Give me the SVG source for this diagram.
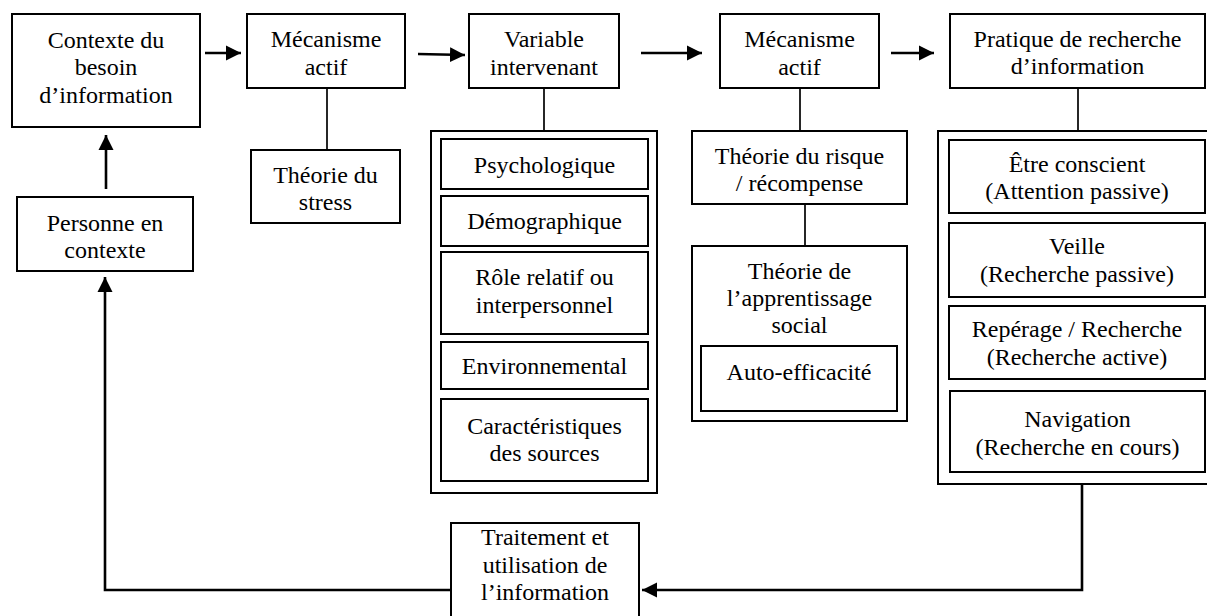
<svg xmlns="http://www.w3.org/2000/svg" width="1207" height="616" viewBox="0 0 1207 616">
  <style>
    .box { fill: #fff; stroke: #000; stroke-width: 2; }
    .frame { fill: none; stroke: #000; stroke-width: 2; }
    .link { fill: none; stroke: #000; stroke-width: 1.7; }
    .arrow { fill: none; stroke: #000; stroke-width: 2.6; marker-end: url(#head); }
    .lbl { font-size: 24px; fill: #000; text-anchor: middle; }
  </style>
  <defs>
    <marker id="head" markerUnits="userSpaceOnUse" markerWidth="16" markerHeight="16" viewBox="0 0 16 16" refX="15" refY="8" orient="auto">
      <path d="M0,0.5 L15,8 L0,15.5 Z" fill="#000"/>
    </marker>
  </defs>
  <rect width="1207" height="616" fill="#fff"/>

  <!-- connectors -->
  <g id="connectors">
    <line class="arrow" x1="205" y1="53" x2="241" y2="53"/>
    <line class="arrow" x1="418" y1="54" x2="465" y2="55"/>
    <line class="arrow" x1="641" y1="53" x2="702" y2="53"/>
    <line class="arrow" x1="891" y1="53" x2="934" y2="53"/>
    <line class="arrow" x1="106" y1="189" x2="106" y2="135"/>
    <line class="link" x1="327" y1="88" x2="327" y2="150"/>
    <line class="link" x1="544" y1="88" x2="544" y2="131"/>
    <line class="link" x1="800" y1="88" x2="800" y2="131"/>
    <line class="link" x1="805" y1="204" x2="805" y2="246"/>
    <line class="link" x1="1078" y1="88" x2="1078" y2="131"/>
    <polyline class="arrow" points="1082,484 1082,590 642,590"/>
    <polyline class="arrow" points="451,590 105,590 105,277"/>
  </g>

  <g font-family="'Liberation Serif', 'Times New Roman', 'DejaVu Serif', serif">
  <g id="contexte-besoin">
    <rect class="box" x="12" y="14" width="188" height="113"/>
    <text class="lbl" x="106" y="47.5">Contexte du</text>
    <text class="lbl" x="106" y="75">besoin</text>
    <text class="lbl" x="106" y="102.5">d’information</text>
  </g>

  <g id="mecanisme-actif-1">
    <rect class="box" x="247" y="14" width="158" height="74"/>
    <text class="lbl" x="326" y="47">Mécanisme</text>
    <text class="lbl" x="326" y="74.5">actif</text>
  </g>

  <g id="theorie-stress">
    <rect class="box" x="251" y="150" width="149" height="73"/>
    <text class="lbl" x="325.5" y="183">Théorie du</text>
    <text class="lbl" x="325.5" y="210">stress</text>
  </g>

  <g id="personne-contexte">
    <rect class="box" x="17" y="197" width="176" height="74"/>
    <text class="lbl" x="105" y="231">Personne en</text>
    <text class="lbl" x="105" y="258">contexte</text>
  </g>

  <g id="variable-intervenant">
    <rect class="box" x="469" y="14" width="150" height="74"/>
    <text class="lbl" x="544" y="47">Variable</text>
    <text class="lbl" x="544" y="74.5">intervenant</text>
  </g>

  <g id="variables">
    <rect class="frame" x="431" y="131" width="226" height="362"/>
    <g id="psychologique">
      <rect class="box" x="441" y="139" width="207" height="50"/>
      <text class="lbl" x="544.5" y="173">Psychologique</text>
    </g>
    <g id="demographique">
      <rect class="box" x="441" y="196" width="207" height="50"/>
      <text class="lbl" x="544.5" y="229">Démographique</text>
    </g>
    <g id="role-relatif">
      <rect class="box" x="441" y="252" width="207" height="82"/>
      <text class="lbl" x="544.5" y="285">Rôle relatif ou</text>
      <text class="lbl" x="544.5" y="313">interpersonnel</text>
    </g>
    <g id="environnemental">
      <rect class="box" x="441" y="342" width="207" height="47"/>
      <text class="lbl" x="544.5" y="374">Environnemental</text>
    </g>
    <g id="caracteristiques-sources">
      <rect class="box" x="441" y="399" width="207" height="82"/>
      <text class="lbl" x="544.5" y="434">Caractéristiques</text>
      <text class="lbl" x="544.5" y="461">des sources</text>
    </g>
  </g>

  <g id="mecanisme-actif-2">
    <rect class="box" x="720" y="14" width="159" height="74"/>
    <text class="lbl" x="799.5" y="47">Mécanisme</text>
    <text class="lbl" x="799.5" y="74.5">actif</text>
  </g>

  <g id="theorie-risque">
    <rect class="box" x="692" y="131" width="215" height="73"/>
    <text class="lbl" x="799.5" y="163.5">Théorie du risque</text>
    <text class="lbl" x="799.5" y="190.5">/ récompense</text>
  </g>

  <g id="theorie-apprentissage">
    <rect class="box" x="692" y="246" width="215" height="175"/>
    <text class="lbl" x="799.5" y="279">Théorie de</text>
    <text class="lbl" x="799.5" y="305.5">l’apprentissage</text>
    <text class="lbl" x="799.5" y="333">social</text>
    <g id="auto-efficacite">
      <rect class="box" x="701" y="346" width="196" height="65"/>
      <text class="lbl" x="799" y="380">Auto-efficacité</text>
    </g>
  </g>

  <g id="pratique-recherche">
    <rect class="box" x="950" y="14" width="255" height="74"/>
    <text class="lbl" x="1077.5" y="46.5">Pratique de recherche</text>
    <text class="lbl" x="1077.5" y="74">d’information</text>
  </g>

  <g id="pratiques">
    <rect class="frame" x="938" y="131" width="280" height="353"/>
    <g id="etre-conscient">
      <rect class="box" x="949" y="140" width="256" height="73"/>
      <text class="lbl" x="1077" y="171.5">Être conscient</text>
      <text class="lbl" x="1077" y="199">(Attention passive)</text>
    </g>
    <g id="veille">
      <rect class="box" x="949" y="223" width="256" height="74"/>
      <text class="lbl" x="1077" y="254">Veille</text>
      <text class="lbl" x="1077" y="281.5">(Recherche passive)</text>
    </g>
    <g id="reperage">
      <rect class="box" x="949" y="306" width="256" height="73"/>
      <text class="lbl" x="1077" y="337">Repérage / Recherche</text>
      <text class="lbl" x="1077" y="364.5">(Recherche active)</text>
    </g>
    <g id="navigation">
      <rect class="box" x="950" y="391" width="255" height="81"/>
      <text class="lbl" x="1077.5" y="427">Navigation</text>
      <text class="lbl" x="1077.5" y="454.5">(Recherche en cours)</text>
    </g>
  </g>

  <g id="traitement-utilisation">
    <rect class="box" x="451" y="523" width="188" height="100"/>
    <text class="lbl" x="545" y="545">Traitement et</text>
    <text class="lbl" x="545" y="572.5">utilisation de</text>
    <text class="lbl" x="545" y="600">l’information</text>
  </g>
  </g>
</svg>
